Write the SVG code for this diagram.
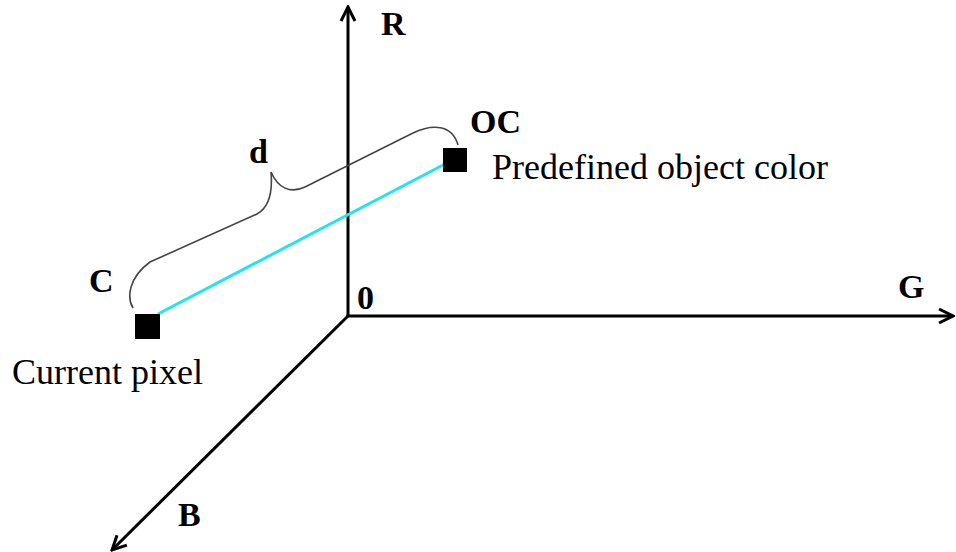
<svg xmlns="http://www.w3.org/2000/svg" width="956" height="552" viewBox="0 0 956 552">
<defs>
<style>
.axis{stroke:#000;stroke-width:3;fill:none}
.lbl{font-family:"Liberation Serif","Times New Roman",serif;font-weight:bold;font-size:34px;fill:#000}
.txt{font-family:"Liberation Serif","Times New Roman",serif;font-size:36px;fill:#000}
.pt{fill:#000}
</style>
<marker id="arr" viewBox="0 0 20 20" refX="18" refY="10" markerWidth="20" markerHeight="20" markerUnits="userSpaceOnUse" orient="auto">
<polyline points="4,3 18,10 4,17" fill="none" stroke="#000" stroke-width="3"/>
</marker>
</defs>
<rect width="956" height="552" fill="#fff"/>
<g id="connectors">
<line class="axis" x1="348" y1="316" x2="348" y2="7" marker-end="url(#arr)"/>
<line class="axis" x1="346.5" y1="316" x2="953" y2="316" marker-end="url(#arr)"/>
<line class="axis" x1="348" y1="316" x2="112" y2="550" marker-end="url(#arr)"/>
<line x1="158" y1="314" x2="445" y2="164" stroke="#22e3f2" stroke-width="3"/>
<path d="M133,308 C127,298 128,278 150,262 L257,214 C268,208 273,195 271,172 C278,188 290,194 305,187 L413,133 C432,124 452,124 458,145" fill="none" stroke="#444" stroke-width="1.6"/>
</g>
<g id="axis-R"><text class="lbl" x="381" y="35">R</text></g>
<g id="axis-G"><text class="lbl" x="898" y="298">G</text></g>
<g id="axis-B"><text class="lbl" x="178" y="526">B</text></g>
<g id="origin"><text class="lbl" x="357" y="309">0</text></g>
<g id="node-C">
<rect class="pt" x="135" y="314" width="25" height="25"/>
<text class="lbl" x="89" y="292">C</text>
<text class="txt" x="12" y="384">Current pixel</text>
</g>
<g id="node-OC">
<rect class="pt" x="443" y="148" width="24" height="24"/>
<text class="lbl" x="470" y="133">OC</text>
<text class="txt" x="492" y="179">Predefined object color</text>
</g>
<g id="label-d"><text class="lbl" x="249" y="163">d</text></g>
</svg>
